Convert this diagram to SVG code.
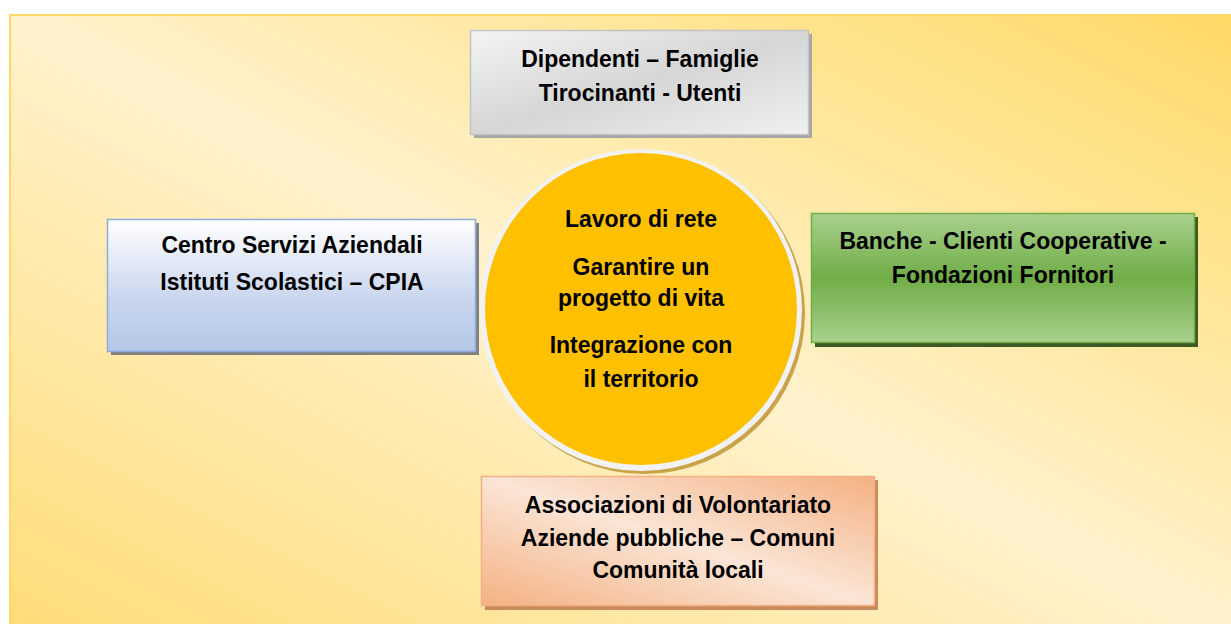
<svg xmlns="http://www.w3.org/2000/svg" width="1231" height="624" viewBox="0 0 1231 624">
<defs>
<linearGradient id="bg" x1="0" y1="1" x2="1" y2="0">
<stop offset="0" stop-color="#ffdc78"/>
<stop offset="0.5" stop-color="#fff2cc"/>
<stop offset="1" stop-color="#ffd966"/>
</linearGradient>
<linearGradient id="gGrey" x1="0" y1="0" x2="1" y2="1">
<stop offset="0" stop-color="#f4f4f4"/>
<stop offset="0.5" stop-color="#d6d6d6"/>
<stop offset="1" stop-color="#f0f0f0"/>
</linearGradient>
<linearGradient id="gBlue" x1="0" y1="0" x2="0" y2="1">
<stop offset="0" stop-color="#ffffff"/>
<stop offset="0.6" stop-color="#c9d6ee"/>
<stop offset="1" stop-color="#b4c7e7"/>
</linearGradient>
<linearGradient id="gGreen" x1="0" y1="0" x2="0" y2="1">
<stop offset="0" stop-color="#a9d18e"/>
<stop offset="0.5" stop-color="#70ad47"/>
<stop offset="1" stop-color="#a9d18e"/>
</linearGradient>
<linearGradient id="gOrange" x1="0" y1="1" x2="1" y2="0">
<stop offset="0" stop-color="#f4b183"/>
<stop offset="0.5" stop-color="#fbe5d6"/>
<stop offset="1" stop-color="#f4b183"/>
</linearGradient>
<style>
.t{font-family:"Liberation Sans",Arial,sans-serif;font-weight:bold;font-size:23px;fill:#000;text-anchor:middle}
</style>
</defs>
<rect x="0" y="0" width="1231" height="624" fill="#ffffff"/>
<rect x="10" y="15" width="1225" height="615" fill="url(#bg)" stroke="#ffd966" stroke-width="2"/>
<g id="connectors"></g>
<g id="node-top">
<rect x="474" y="34" width="338" height="104" fill="#a6a6a6"/>
<rect x="470.5" y="30.5" width="338" height="104" fill="url(#gGrey)" stroke="#c4c4c4" stroke-width="1.5"/>
<text class="t" x="640" y="67">Dipendenti – Famiglie</text>
<text class="t" x="640" y="101">Tirocinanti - Utenti</text>
</g>
<g id="node-left">
<rect x="111" y="223" width="368" height="132" fill="#808080"/>
<rect x="107.5" y="219.5" width="368" height="132" fill="url(#gBlue)" stroke="#8faadc" stroke-width="1.5"/>
<text class="t" x="292" y="253">Centro Servizi Aziendali</text>
<text class="t" x="292" y="290">Istituti Scolastici – CPIA</text>
</g>
<g id="node-right">
<rect x="815" y="217" width="383" height="130" fill="#3b5a24"/>
<rect x="811.5" y="213.5" width="383" height="129" fill="url(#gGreen)" stroke="#70ad47" stroke-width="1.5"/>
<text class="t" x="1003" y="249">Banche - Clienti Cooperative -</text>
<text class="t" x="1003" y="283">Fondazioni Fornitori</text>
</g>
<g id="node-bottom">
<rect x="485" y="480" width="393" height="130" fill="#c98a5c"/>
<rect x="481.5" y="476.5" width="393" height="129" fill="url(#gOrange)" stroke="#f4b183" stroke-width="1.5"/>
<text class="t" x="678" y="513">Associazioni di Volontariato</text>
<text class="t" x="678" y="546">Aziende pubbliche – Comuni</text>
<text class="t" x="678" y="578">Comunità locali</text>
</g>
<g id="node-center">
<circle cx="644" cy="313" r="161" fill="#c9a24a"/>
<circle cx="641" cy="310" r="161" fill="#f2f2f2"/>
<circle cx="641" cy="309" r="156" fill="#ffc000"/>
<text class="t" x="641" y="227">Lavoro di rete</text>
<text class="t" x="641" y="275">Garantire un</text>
<text class="t" x="641" y="306">progetto di vita</text>
<text class="t" x="641" y="353">Integrazione con</text>
<text class="t" x="641" y="387">il territorio</text>
</g>
</svg>
